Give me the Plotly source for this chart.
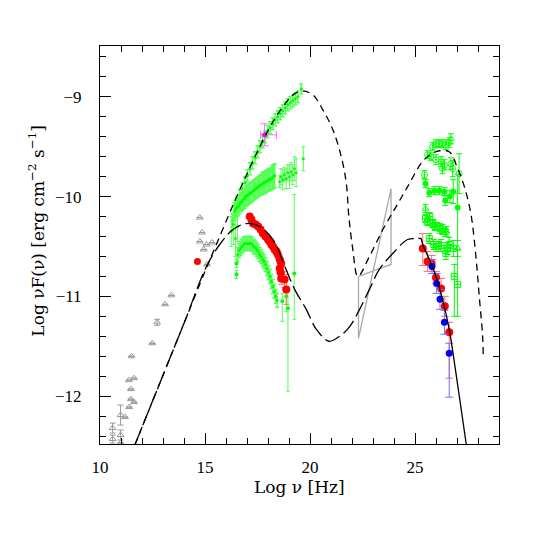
import plotly.graph_objects as go

# ---- model curves (log nu, log nuFnu) ----
high_model_x = [11.66, 13.0, 14.0, 15.0, 15.5, 16.1, 16.57, 17.05, 17.45, 17.92, 18.32, 18.71, 19.19,
                19.6, 20.14, 20.61, 21.09, 21.49, 21.73, 21.85, 22.04, 22.28, 22.83, 23.47, 24.1,
                24.65, 25.35, 25.8, 26.16, 26.63, 27.0, 27.35, 27.66, 27.9, 28.06, 28.22, 28.25]
high_model_y = [-12.49, -11.79, -11.27, -10.75, -10.5, -10.2, -9.97, -9.75, -9.57, -9.37, -9.22, -9.1, -8.98,
                -8.94, -8.98, -9.13, -9.33, -9.6, -9.87, -10.2, -10.53, -10.8, -10.6, -10.33, -10.1,
                -9.9, -9.65, -9.57, -9.54, -9.55, -9.7, -9.9, -10.17, -10.6, -11.0, -11.4, -11.6]

low_model_x = [11.66, 13.0, 14.0, 15.07, 15.7, 16.33, 16.97, 17.6, 18.24, 18.8, 19.27, 19.82, 20.3, 20.9,
               21.41, 21.9, 22.36, 22.83, 23.3, 23.94, 24.65, 25.05, 25.3]
low_model_y = [-12.49, -11.79, -11.27, -10.7, -10.48, -10.33, -10.27, -10.3, -10.43, -10.7, -10.93, -11.13,
               -11.33, -11.45, -11.4, -11.3, -11.13, -10.93, -10.73, -10.57, -10.43, -10.42, -10.42]

tev_fit_x = [25.3, 25.37, 25.68, 26.0, 26.31, 26.63, 26.95, 27.44]
tev_fit_y = [-10.42, -10.48, -10.63, -10.8, -11.03, -11.33, -11.77, -12.48]

# ---- bow tie (grey) ----
bowtie_x = [22.31, 23.86, 23.86, 22.31, 22.31]
bowtie_y = [-10.80, -10.68, -9.92, -11.42, -10.80]

# ---- archival radio/optical (grey triangles) ----
arch_x = [14.75, 14.86, 14.75, 15.07, 15.33, 14.94, 15.1, 13.4, 13.1, 12.72, 12.49, 11.5, 11.38, 11.62,
          11.47, 11.47, 11.62, 11.39, 10.98, 11.19, 10.6, 10.6, 10.98, 10.98]
arch_y = [-10.21, -10.36, -10.45, -10.48, -10.46, -10.53, -10.68, -10.99, -11.08, -11.26, -11.47, -11.6,
          -11.84, -11.82, -11.93, -12.03, -12.06, -12.11, -12.19, -12.21, -12.32, -12.43, -12.39, -12.47]
arch_err = [0, 0, 0, 0, 0, 0, 0, 0, 0, 0.03, 0, 0, 0, 0, 0, 0, 0, 0, 0.1, 0, 0.05, 0.04, 0.05, 0]

# ---- X-ray high state (green) ----
xhi_x = [16.30, 16.42, 16.54, 16.66, 16.78, 16.90, 17.02, 17.14, 17.26, 17.38, 17.50, 17.62, 17.74, 17.86,
         17.98, 18.10, 18.22, 18.34, 18.46, 18.58, 18.70, 18.82, 18.94, 19.06, 19.18, 19.30, 19.42, 19.58]
xhi_y = [-10.24, -10.15, -10.07, -9.99, -9.92, -9.86, -9.79, -9.72, -9.66, -9.61, -9.55, -9.50, -9.45, -9.40,
         -9.35, -9.31, -9.27, -9.23, -9.20, -9.17, -9.14, -9.11, -9.08, -9.06, -9.04, -9.02, -9.00, -8.92]
xhi_err = [0.07, 0.07, 0.06, 0.06, 0.06, 0.06, 0.06, 0.06, 0.06, 0.06, 0.06, 0.06, 0.06, 0.06,
           0.06, 0.06, 0.06, 0.06, 0.06, 0.06, 0.06, 0.06, 0.06, 0.06, 0.06, 0.06, 0.06, 0.05]

# ---- X-ray intermediate state (green) ----
xmid_x = [16.40, 16.46, 16.52, 16.58, 16.64, 16.70, 16.76, 16.82, 16.88, 16.94, 17.00, 17.06, 17.12, 17.18,
          17.24, 17.30, 17.36, 17.42, 17.48, 17.54, 17.60, 17.66, 17.72, 17.78, 17.84, 17.90, 17.96, 18.02,
          18.08, 18.14, 18.20, 18.26, 18.32]
xmid_y = [-10.15, -10.13, -10.11, -10.10, -10.08, -10.06, -10.05, -10.03, -10.02, -10.00, -9.99, -9.98, -9.97,
          -9.96, -9.95, -9.94, -9.93, -9.92, -9.91, -9.90, -9.89, -9.88, -9.87, -9.86, -9.86, -9.85, -9.84,
          -9.83, -9.83, -9.82, -9.81, -9.80, -9.79]
xmid_err = [0.09, 0.09, 0.09, 0.09, 0.09, 0.09, 0.09, 0.1, 0.1, 0.1, 0.1, 0.1, 0.1, 0.1,
            0.1, 0.1, 0.1, 0.1, 0.1, 0.1, 0.1, 0.1, 0.11, 0.11, 0.11, 0.11, 0.11, 0.11,
            0.11, 0.11, 0.12, 0.12, 0.12]

xmid2_x = [18.55, 18.62, 18.70, 18.78, 18.86, 18.94, 19.02, 19.10, 19.18, 19.26, 19.34, 19.68]
xmid2_y = [-9.85, -9.80, -9.83, -9.78, -9.82, -9.76, -9.80, -9.75, -9.78, -9.72, -9.76, -9.62]
xmid2_err = [0.06, 0.08, 0.1, 0.07, 0.1, 0.08, 0.12, 0.09, 0.1, 0.12, 0.14, 0.12]

# ---- X-ray low state (green) ----
xlo_x = [16.55, 16.62, 16.69, 16.76, 16.83, 16.90, 16.97, 17.04, 17.11, 17.18, 17.25, 17.32, 17.39, 17.46,
         17.53, 17.60, 17.67, 17.74, 17.81, 17.88, 17.95, 18.02, 18.09, 18.16, 18.23, 18.30, 18.37, 18.43]
xlo_y = [-10.58, -10.54, -10.52, -10.50, -10.48, -10.47, -10.47, -10.47, -10.47, -10.47, -10.48, -10.50,
         -10.51, -10.53, -10.55, -10.58, -10.60, -10.63, -10.65, -10.68, -10.72, -10.76, -10.80, -10.85,
         -10.90, -10.95, -11.00, -11.04]
xlo_err = [0.07, 0.07, 0.07, 0.07, 0.07, 0.07, 0.07, 0.07, 0.07, 0.07, 0.07, 0.07, 0.07, 0.07,
           0.07, 0.07, 0.07, 0.07, 0.07, 0.07, 0.07, 0.07, 0.07, 0.07, 0.07, 0.07, 0.07, 0.07]

xedge_x = [16.25, 16.35, 16.45, 16.55]
xedge_y = [-10.35, -10.28, -10.42, -10.3]
xedge_err = [0.15, 0.2, 0.18, 0.15]

xlo_extra_x = [16.5, 16.5, 18.68, 18.87, 18.95, 19.25]
xlo_extra_y = [-10.67, -10.78, -11.05, -11.0, -11.12, -10.77]
xlo_extra_ep = [0.04, 0.04, 0.08, 0.1, 0.18, 0.79]
xlo_extra_em = [0.04, 0.04, 0.2, 0.15, 0.83, 0.46]

# ---- X-ray low state (red) ----
xred_x = [17.13, 17.21, 17.29, 17.41, 17.53, 17.65, 17.76, 17.88, 18.0, 18.08, 18.16, 18.24, 18.32, 18.4,
          18.47, 18.56, 18.63, 18.56, 18.6, 18.63, 18.79, 18.87]
xred_y = [-10.2, -10.23, -10.27, -10.28, -10.3, -10.33, -10.37, -10.4, -10.43, -10.45, -10.48, -10.5, -10.53,
          -10.55, -10.58, -10.63, -10.67, -10.72, -10.76, -10.82, -10.83, -10.93]
xred_err = [0.02, 0.02, 0.02, 0.02, 0.02, 0.02, 0.02, 0.02, 0.03, 0.03, 0.03, 0.03, 0.03, 0.03,
            0.04, 0.04, 0.04, 0.05, 0.05, 0.06, 0.08, 0.15]
opt_red_x = [14.64]
opt_red_y = [-10.65]

# ---- magenta point ----
mag_x = [17.84]
mag_y = [-9.38]

# ---- TeV, green ----
tev_oc_x = [25.45, 25.6, 25.76, 25.84, 26.0, 26.0, 26.16, 26.24, 26.31, 26.31, 26.4, 26.47, 26.63, 26.71,
            26.79, 27.1]
tev_oc_y = [-9.78, -9.58, -9.6, -9.5, -9.47, -9.63, -9.47, -9.65, -9.72, -9.47, -9.68, -9.48, -9.46, -9.67,
            -9.72, -9.77]
tev_oc_err = [0.04, 0.04, 0.04, 0.04, 0.04, 0.05, 0.04, 0.05, 0.05, 0.04, 0.05, 0.05, 0.05, 0.06, 0.08, 0.2]

tev_fc_x = [25.5, 25.68, 25.92, 26.16, 26.4, 26.44, 26.66, 26.82, 27.03]
tev_fc_y = [-9.87, -9.96, -9.94, -9.94, -9.95, -10.04, -10.0, -9.95, -10.11]
tev_fc_err = [0.04, 0.04, 0.04, 0.04, 0.04, 0.05, 0.06, 0.12, 0.33]

tev_tr_x = [25.5, 25.87, 26.5, 26.71, 27.03]
tev_tr_y = [-10.12, -10.27, -10.35, -9.42, -10.52]
tev_tr_err = [0.04, 0.04, 0.05, 0.05, 0.08]

tev_sq_x = [25.5, 25.6, 25.7, 25.84, 25.95, 26.05, 26.2, 26.31, 26.44, 25.68, 25.89, 26.0, 26.12, 26.24,
            26.47, 26.55, 26.63, 26.84, 26.87, 27.03]
tev_sq_y = [-10.22, -10.25, -10.2, -10.27, -10.3, -10.3, -10.32, -10.33, -10.35, -10.42, -10.48, -10.5, -10.5,
            -10.49, -10.57, -10.52, -10.48, -10.52, -10.8, -10.88]
tev_sq_ep = [0.04, 0.04, 0.04, 0.04, 0.04, 0.04, 0.05, 0.05, 0.05, 0.05, 0.05, 0.05, 0.05, 0.06,
             0.06, 0.06, 0.07, 0.08, 0.12, 0.35]
tev_sq_em = [0.04, 0.04, 0.04, 0.04, 0.04, 0.04, 0.05, 0.05, 0.05, 0.05, 0.05, 0.05, 0.05, 0.06,
             0.06, 0.06, 0.07, 0.08, 0.4, 0.32]

# ---- TeV, red and blue ----
tev_red_x = [25.37, 25.6, 25.79, 26.0, 26.24, 26.42, 26.63]
tev_red_y = [-10.52, -10.65, -10.67, -10.81, -10.92, -11.1, -11.36]
tev_red_ep = [0.15, 0.1, 0.08, 0.06, 0.1, 0.1, 0.1]
tev_red_em = [0.17, 0.1, 0.08, 0.06, 0.1, 0.1, 0.46]

tev_blue_x = [25.81, 26.03, 26.19, 26.4, 26.63]
tev_blue_y = [-10.7, -10.87, -11.03, -11.26, -11.57]
tev_blue_ep = [0.07, 0.1, 0.1, 0.12, 0.1]
tev_blue_em = [0.07, 0.1, 0.1, 0.12, 0.44]

GREEN = "#00ff00"
GREEN_ERR = "#55ff55"


def errs(plus, minus=None, color=GREEN_ERR, width=2, thickness=1):
    d = dict(type="data", array=plus, color=color, thickness=thickness, width=width)
    if minus is not None:
        d.update(symmetric=False, arrayminus=minus)
    return d


def xbar(v):
    return dict(type="constant", value=v, color=GREEN, thickness=1, width=0)


fig = go.Figure()

# archival
fig.add_trace(go.Scatter(x=arch_x, y=arch_y, mode="markers",
                         marker=dict(symbol="triangle-up-open", size=6, color="#999999", line=dict(width=1)),
                         error_y=errs(arch_err, color="#999999", width=3)))

# bow tie
fig.add_trace(go.Scatter(x=bowtie_x, y=bowtie_y, mode="lines", line=dict(color="#aaaaaa", width=1.3)))

# green X-ray bands
fig.add_trace(go.Scatter(x=xhi_x, y=xhi_y, mode="markers", marker=dict(size=3, color=GREEN),
                         error_y=errs(xhi_err, thickness=1.5), error_x=xbar(0.07)))
fig.add_trace(go.Scatter(x=xmid_x, y=xmid_y, mode="markers", marker=dict(size=3, color=GREEN),
                         error_y=errs(xmid_err, thickness=1.5), error_x=xbar(0.05)))
fig.add_trace(go.Scatter(x=xmid2_x, y=xmid2_y, mode="markers", marker=dict(size=3, color=GREEN),
                         error_y=errs(xmid2_err), error_x=xbar(0.04)))
fig.add_trace(go.Scatter(x=xlo_x, y=xlo_y, mode="markers", marker=dict(size=3, color=GREEN),
                         error_y=errs(xlo_err, thickness=1.5), error_x=xbar(0.05)))
fig.add_trace(go.Scatter(x=xedge_x, y=xedge_y, mode="markers", marker=dict(size=3, color=GREEN),
                         error_y=errs(xedge_err), error_x=xbar(0.05)))
fig.add_trace(go.Scatter(x=xlo_extra_x, y=xlo_extra_y, mode="markers",
                         marker=dict(size=4, color=GREEN),
                         error_y=errs(xlo_extra_ep, xlo_extra_em)))

# magenta
fig.add_trace(go.Scatter(x=mag_x, y=mag_y, mode="markers",
                         marker=dict(size=5, color="#ff00ff"),
                         error_y=dict(type="data", array=[0.11], color="#ff66ff", thickness=1, width=4),
                         error_x=dict(type="data", symmetric=False, array=[0.56], arrayminus=[0.19],
                                      color="#ff66ff", thickness=1, width=4)))

# red X-ray and optical
fig.add_trace(go.Scatter(x=xred_x, y=xred_y, mode="markers",
                         marker=dict(size=8, color="#ff0000"),
                         error_y=errs(xred_err, color="#ff7070", width=3)))
fig.add_trace(go.Scatter(x=opt_red_x, y=opt_red_y, mode="markers",
                         marker=dict(size=7, color="#ff0000")))

# TeV green
fig.add_trace(go.Scatter(x=tev_oc_x, y=tev_oc_y, mode="markers",
                         marker=dict(symbol="circle-open", size=6, color=GREEN, line=dict(width=1)),
                         error_y=errs(tev_oc_err, color=GREEN, width=3), error_x=xbar(0.07)))
fig.add_trace(go.Scatter(x=tev_fc_x, y=tev_fc_y, mode="markers",
                         marker=dict(size=6, color=GREEN),
                         error_y=errs(tev_fc_err, color=GREEN, width=3)))
fig.add_trace(go.Scatter(x=tev_tr_x, y=tev_tr_y, mode="markers",
                         marker=dict(symbol="triangle-up-open", size=6, color=GREEN, line=dict(width=1)),
                         error_y=errs(tev_tr_err, color=GREEN, width=3)))
fig.add_trace(go.Scatter(x=tev_sq_x, y=tev_sq_y, mode="markers",
                         marker=dict(symbol="square-cross-open", size=6, color=GREEN, line=dict(width=1)),
                         error_y=errs(tev_sq_ep, tev_sq_em, color=GREEN, width=3)))

# TeV red / blue
fig.add_trace(go.Scatter(x=tev_red_x, y=tev_red_y, mode="markers",
                         marker=dict(size=8, color="#ff0000"),
                         error_y=errs(tev_red_ep, tev_red_em, color="#ff7070", width=4)))
fig.add_trace(go.Scatter(x=tev_blue_x, y=tev_blue_y, mode="markers",
                         marker=dict(size=7, color="#0000ff"),
                         error_y=errs(tev_blue_ep, tev_blue_em, color="#7070ff", width=4)))

# models
fig.add_trace(go.Scatter(x=high_model_x, y=high_model_y, mode="lines", line_shape="spline",
                         line=dict(color="black", width=1.3, dash="7px,5px")))
fig.add_trace(go.Scatter(x=low_model_x, y=low_model_y, mode="lines", line_shape="spline",
                         line=dict(color="black", width=1.3, dash="16px,5px")))
fig.add_trace(go.Scatter(x=tev_fit_x, y=tev_fit_y, mode="lines", line_shape="spline",
                         line=dict(color="black", width=1.3)))

axis_common = dict(showline=True, linecolor="black", linewidth=1, mirror="ticks", ticks="inside",
                   tickcolor="black", tickwidth=1, ticklen=11, showgrid=False, zeroline=False,
                   tickfont=dict(family="Liberation Serif", size=17, color="black"))

fig.update_xaxes(range=[10, 29], tick0=10, dtick=5, ticklabelstandoff=8,
                 minor=dict(dtick=1, ticks="inside", ticklen=6, tickcolor="black", showgrid=False),
                 **axis_common)
fig.update_yaxes(range=[-12.48, -8.49], tick0=-12, dtick=1, ticklabelstandoff=14,
                 minor=dict(dtick=0.2, tick0=-12, ticks="inside", ticklen=6, tickcolor="black", showgrid=False),
                 **axis_common)

title_font = dict(family="DejaVu Serif", size=17, color="black")
fig.add_annotation(text="Log ν [Hz]", xref="paper", yref="paper", x=0.5, y=-0.108,
                   xanchor="center", yanchor="middle", showarrow=False, font=title_font)
fig.add_annotation(text="Log νF(ν) [erg cm<sup>−2</sup> s<sup>−1</sup>]", xref="paper", yref="paper",
                   x=-0.159, y=0.535, xanchor="center", yanchor="middle", textangle=-90,
                   showarrow=False, font=title_font)

# the page body adds an 8px offset, so the margins are shifted to put the frame at 100..499 / 46..444
fig.update_layout(width=545, height=545, showlegend=False,
                  margin=dict(l=92, r=54, t=38, b=109),
                  paper_bgcolor="white", plot_bgcolor="white")

fig.write_html("out.html")
